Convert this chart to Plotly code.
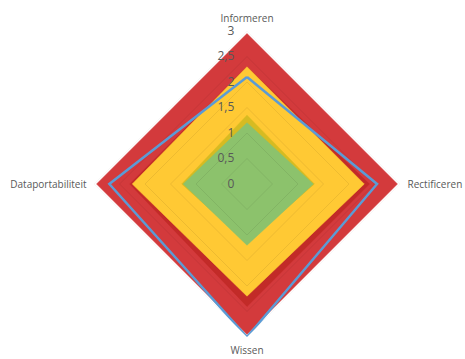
import plotly.graph_objects as go

categories = ["Informeren", "Rectificeren", "Wissen", "Dataportabiliteit"]
red_vals = [2.95, 2.95, 2.95, 2.95]
darkred_vals = [2.3, 2.4, 2.4, 2.3]
yellow_vals = [2.3, 2.3, 2.2, 2.25]
olive_vals = [1.35, 1.32, 1.15, 1.28]
green_vals = [1.2, 1.3, 1.2, 1.25]
blue_vals = [2.1, 2.55, 3.0, 2.7]
tick_vals = [0, 0.5, 1, 1.5, 2, 2.5, 3]
tick_text = ["0", "0,5", "1", "1,5", "2", "2,5", "3"]


def closed(v):
    return list(v) + [v[0]]


theta = closed(categories)

fig = go.Figure()


def area(vals, color):
    fig.add_trace(go.Scatterpolar(
        r=closed(vals), theta=theta, mode="lines", fill="toself",
        fillcolor=color, line=dict(color=color, width=0.5),
        hoverinfo="skip", showlegend=False))


area(red_vals, "#D33A3C")
area(darkred_vals, "#C22B28")
area(yellow_vals, "#FFC934")
area(olive_vals, "#D6BB22")
area(green_vals, "#8CC26C")

# faint gridlines visible through fills
for tv in tick_vals[1:]:
    fig.add_trace(go.Scatterpolar(
        r=closed([tv] * len(categories)), theta=theta, mode="lines",
        line=dict(color="rgba(0,0,0,0.07)", width=1),
        hoverinfo="skip", showlegend=False))

fig.add_trace(go.Scatterpolar(
    r=closed(blue_vals), theta=theta, mode="lines",
    line=dict(color="#5B9BD5", width=2.5),
    hoverinfo="skip", showlegend=False))

fig.update_layout(
    width=465, height=359,
    margin=dict(l=0, r=0, t=0, b=0),
    paper_bgcolor="white",
    showlegend=False,
    polar=dict(
        domain=dict(x=[0.2022, 0.8602], y=[0.0613, 0.9136]),
        bgcolor="white",
        gridshape="linear",
        angularaxis=dict(
            rotation=90, direction="clockwise",
            showline=False, showgrid=False,
            ticks="outside", ticklen=5, tickcolor="rgba(0,0,0,0)",
            tickfont=dict(family="Open Sans", size=10, color="#595959"),
        ),
        radialaxis=dict(
            range=[0, 3], angle=90, tickangle=90,
            tickvals=tick_vals, ticktext=tick_text,
            showline=False, layer="above traces",
            ticks="outside", ticklen=8, tickcolor="rgba(0,0,0,0)",
            side="counterclockwise",
            gridcolor="#D9D9D9", gridwidth=1,
            tickfont=dict(family="Open Sans", size=12, color="#595959"),
        ),
    ),
)

fig.write_html("out.html")
